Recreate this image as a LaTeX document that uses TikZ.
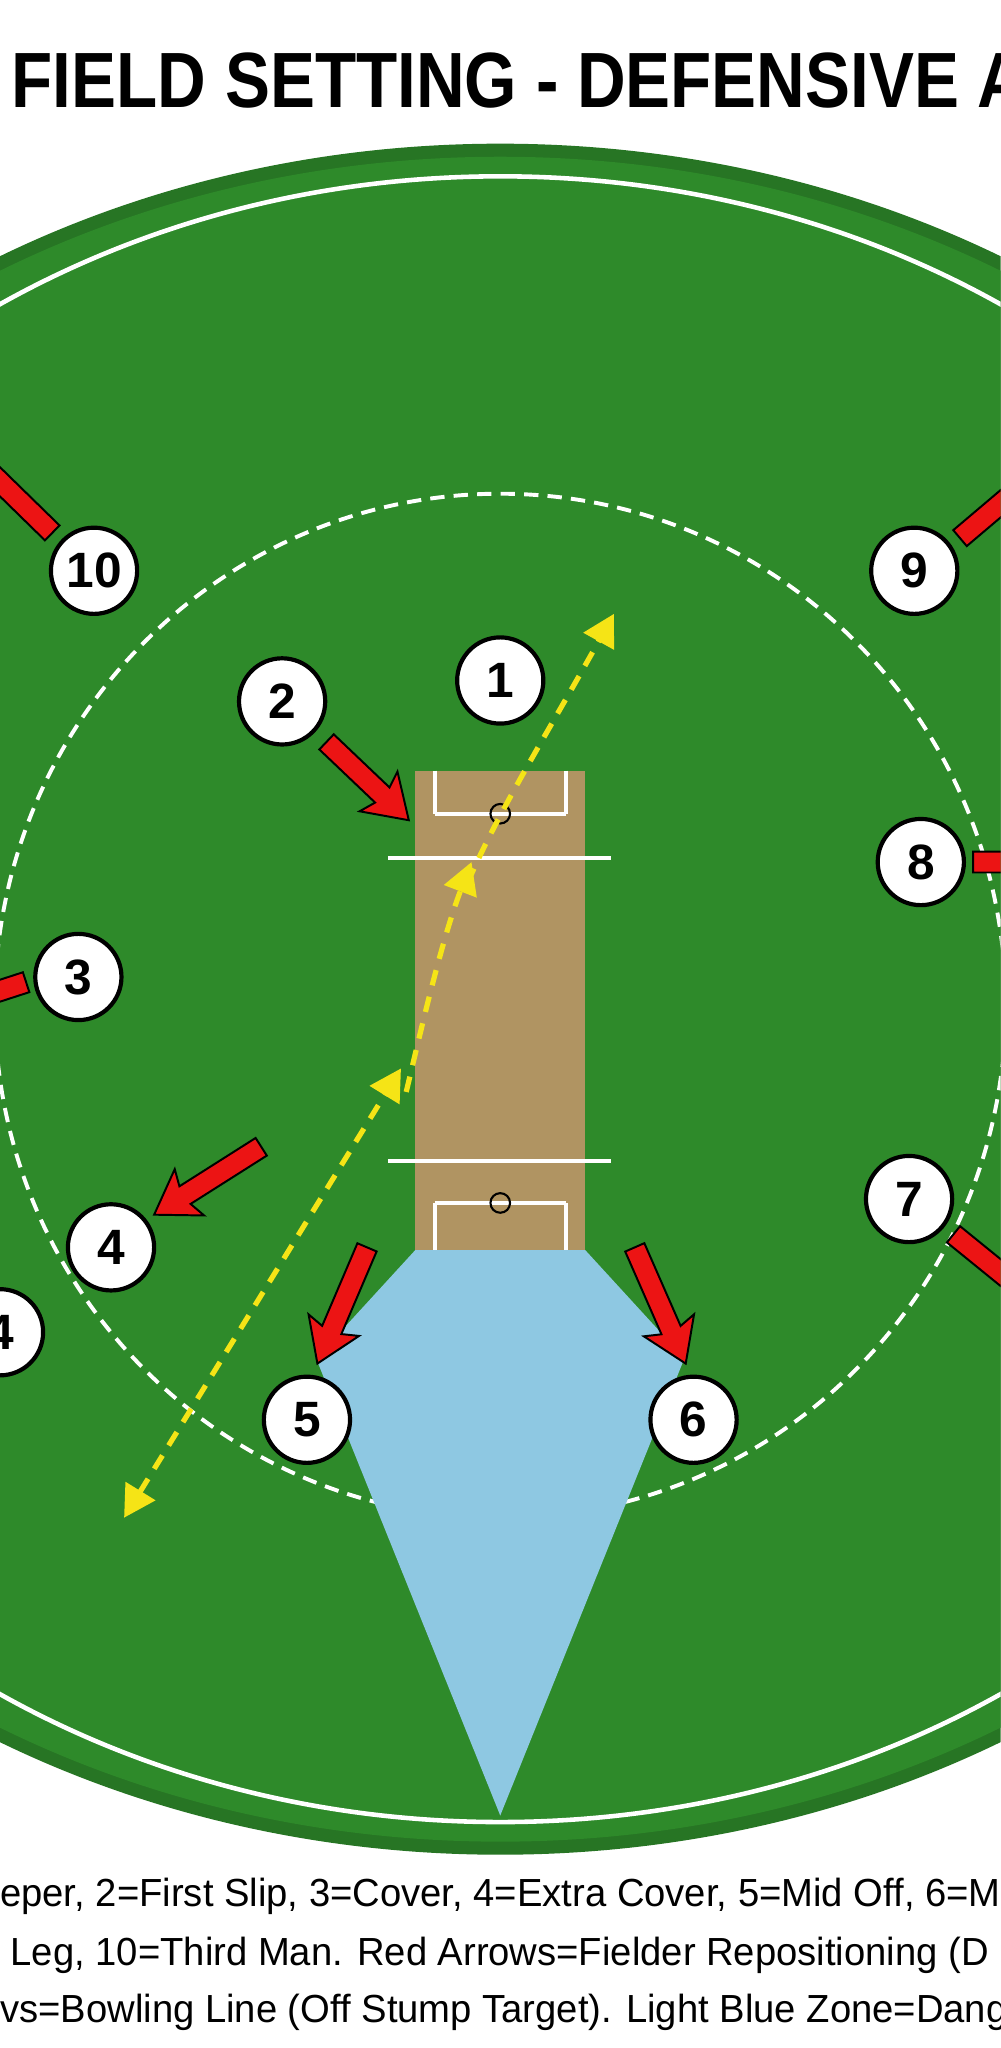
\documentclass[tikz,border=0pt]{standalone}
\usepackage{fontspec}
\setmainfont{Liberation Sans}
\usetikzlibrary{calc,arrows.meta}
\definecolor{fieldgreen}{RGB}{46,138,42}
\definecolor{pitchbrown}{RGB}{176,148,98}
\definecolor{zoneblue}{RGB}{142,200,226}
\definecolor{shotyellow}{RGB}{245,228,22}
\definecolor{moveRed}{RGB}{236,20,20}
\tikzset{
  fielder/.style={circle,draw=black,line width=3.2pt,fill=white,minimum size=66pt,inner sep=0pt,font=\fontsize{38}{38}\bfseries},
  crease/.style={white,line width=3pt},
  shotline/.style={shotyellow,line width=4pt,dash pattern=on 12pt off 9pt,-{Triangle[length=24pt,width=26pt]}},
  legend/.style={font=\fontsize{30}{32}\selectfont,xscale=0.975,inner sep=0pt}
}
\newcommand\fatarrow[2]{%
  \draw[fill=moveRed,draw=black,line width=1.5pt,line join=miter] let \p1=($(#2)-(#1)$), \n1={atan2(\y1,\x1)}, \n2={veclen(\x1,\y1)} in
    [shift={(#1)},rotate=\n1] (0,-8) -- (\n2-28,-8) -- (\n2-32,-21) -- (\n2,0) -- (\n2-32,21) -- (\n2-28,8) -- (0,8) -- cycle;}
\begin{document}
\begin{tikzpicture}[x=1pt,y=-1pt]
\useasboundingbox (0,0) rectangle (766,1568);
\clip (0,0) rectangle (766,1568);
\fill[white] (0,0) rectangle (766,1568);

% title
\node[font=\fontsize{60}{60}\bfseries,xscale=0.86,anchor=west] (title) at (6,62) {FIELD SETTING - DEFENSIVE A};

% ground
\fill[fieldgreen!85!black] (383,765) ellipse [x radius=772,y radius=655];
\fill[fieldgreen] (383,765) ellipse [x radius=762,y radius=645];
\draw[white,line width=3.5pt] (383,765) ellipse [x radius=715,y radius=630];
\draw[white,line width=3pt,dash pattern=on 11pt off 7pt] (383,770) ellipse [x radius=387,y radius=392];

% danger zone
\fill[zoneblue] (318,957) -- (448,957) -- (524,1040) -- (383,1390) -- (242,1040) -- cycle;

% pitch
\fill[pitchbrown] (318,590) rectangle (448,957);
\foreach \yc/\ys/\ye in {657/590/623, 889/921/957}{
  \draw[crease] (297,\yc) -- (468,\yc);
  \draw[crease] (333,\ys) -- (333,\ye) (433,\ys) -- (433,\ye);
}
\draw[crease] (333,623) -- (433,623) (333,921) -- (433,921);
\draw[black,line width=1.6pt] (383,623) circle (7.5) (383,921) circle (7.5);

% bowling line
\coordinate (farend) at (95,1162);
\coordinate (midA) at (307,818);
\coordinate (midB) at (361,660);
\coordinate (topend) at (470,470);
\draw[shotline,{Triangle[length=24pt,width=26pt]}-{Triangle[length=24pt,width=26pt]}] (farend) -- (midA);
\draw[shotline] (311,836) .. controls (322,790) and (338,720) .. (midB);
\draw[shotline] (358,676) .. controls (382,620) and (420,560) .. (topend);

% repositioning arrows
\fatarrow{250,568}{313,628}
\fatarrow{200,878}{118,930}
\fatarrow{281,955}{243,1044}
\fatarrow{486,955}{525,1044}
\fatarrow{745,660}{830,660}
\fatarrow{735,412}{820,340}
\fatarrow{40,408}{-50,320}
\fatarrow{20,752}{-60,778}
\fatarrow{730,945}{810,1010}

% fielders
\node[fielder] (f1) at (383,521) {1};
\node[fielder] (f2) at (216,537) {2};
\node[fielder] (f3) at (60,748) {3};
\node[fielder] (f4) at (85,955) {4};
\node[fielder] (f4b) at (0,1020) {4};
\node[fielder] (f5) at (235,1087) {5};
\node[fielder] (f6) at (531,1087) {6};
\node[fielder] (f7) at (696,918) {7};
\node[fielder] (f8) at (705,660) {8};
\node[fielder] (f9) at (700,437) {9};
\node[fielder] (f10) at (72,437) {10};

% legend
\node[legend,anchor=west] (leg1) at (0,1452) {eper, 2=First Slip, 3=Cover, 4=Extra Cover, 5=Mid Off, 6=M};
\node[legend,anchor=west] (leg2) at (8,1497) {Leg, 10=Third Man. Red Arrows=Fielder Repositioning (D};
\node[legend,anchor=west] (leg3) at (0,1541) {vs=Bowling Line (Off Stump Target). Light Blue Zone=Dang};
\end{tikzpicture}
\end{document}
